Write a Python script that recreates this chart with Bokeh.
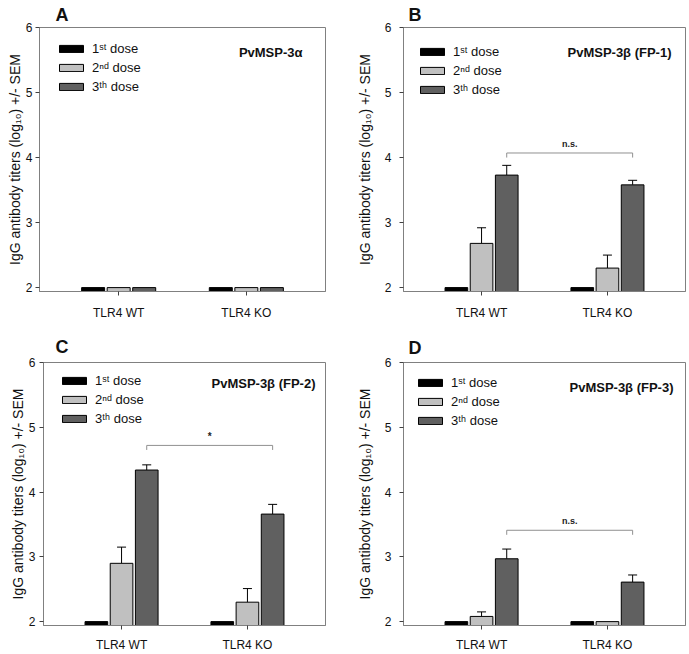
from bokeh.plotting import figure
from bokeh.models import (ColumnDataSource, FactorRange, Range1d, Whisker, TeeHead,
                          Legend, LegendItem, Label)
from bokeh.transform import dodge
from bokeh.layouts import column, row
from bokeh.embed import file_html
from bokeh.resources import INLINE
from bokeh.core.properties import value

# ---------------- data ----------------
groups = ["TLR4 WT", "TLR4 KO"]
dose_labels = ["1ˢᵗ dose", "2ⁿᵈ dose", "3ᵗʰ dose"]
panel_letters = ["A", "B", "C", "D"]
panel_titles = ["PvMSP-3α", "PvMSP-3β (FP-1)", "PvMSP-3β (FP-2)", "PvMSP-3β (FP-3)"]
y_ticks = [2, 3, 4, 5, 6]
y_min, y_max = 1.94, 6.0

# means (log10 titers) per dose, [TLR4 WT, TLR4 KO]
a_dose1 = [2.0, 2.0]
a_dose2 = [2.0, 2.0]
a_dose3 = [2.0, 2.0]
a_err1 = [0.0, 0.0]
a_err2 = [0.0, 0.0]
a_err3 = [0.0, 0.0]

b_dose1 = [2.0, 2.0]
b_dose2 = [2.68, 2.30]
b_dose3 = [3.73, 3.58]
b_err1 = [0.0, 0.0]
b_err2 = [0.24, 0.20]
b_err3 = [0.15, 0.07]

c_dose1 = [2.0, 2.0]
c_dose2 = [2.90, 2.30]
c_dose3 = [4.34, 3.66]
c_err1 = [0.0, 0.0]
c_err2 = [0.25, 0.21]
c_err3 = [0.08, 0.15]

d_dose1 = [2.0, 2.0]
d_dose2 = [2.08, 2.00]
d_dose3 = [2.97, 2.61]
d_err1 = [0.0, 0.0]
d_err2 = [0.07, 0.0]
d_err3 = [0.15, 0.11]

sig_labels = ["", "n.s.", "*", "n.s."]
sig_levels = [None, 4.07, 4.72, 3.41]

# ---------------- style ----------------
FONT = "Liberation Sans"
TXT = "#111111"
colors = ["#000000", "#c0c0c0", "#606060"]
offsets = [-0.2, 0.0, 0.2]
BAR_W = 0.18
GREY = "#808080"
ITEM_H = 14
SPACING = 4


def make_panel(idx, means, errs, w, h, bl, br, bt, bb, lab_std, ax_std, x_std,
               leg_x, leg_top, title_r, title_y, let_x, let_std):
    p = figure(width=w, height=h, output_backend="svg", toolbar_location=None,
               x_range=FactorRange(*groups, range_padding=0.12),
               y_range=Range1d(y_min, y_max),
               min_border_left=bl, min_border_right=br,
               min_border_top=bt, min_border_bottom=bb)
    p.xgrid.grid_line_color = None
    p.ygrid.grid_line_color = None
    p.outline_line_color = GREY
    p.outline_line_width = 1
    p.background_fill_color = "white"

    # panel letter as title
    p.title.text = panel_letters[idx]
    p.title.text_font = FONT
    p.title.text_font_size = "18px"
    p.title.text_font_style = "bold"
    p.title.text_color = TXT
    p.title.align = "left"
    p.title.offset = let_x
    p.title.standoff = let_std

    renderers = []
    for i in range(3):
        src = ColumnDataSource(dict(x=groups, top=means[i]))
        r = p.vbar(x=dodge("x", offsets[i], range=p.x_range), top="top", bottom=y_min,
                   width=BAR_W, source=src, fill_color=colors[i],
                   line_color="black", line_width=1)
        renderers.append(r)
        xs = [g for g, e in zip(groups, errs[i]) if e > 0]
        if xs:
            lo = [m for m, e in zip(means[i], errs[i]) if e > 0]
            up = [m + e for m, e in zip(means[i], errs[i]) if e > 0]
            wsrc = ColumnDataSource(dict(x=xs, lower=lo, upper=up))
            wh = Whisker(base=dodge("x", offsets[i], range=p.x_range), lower="lower",
                         upper="upper", source=wsrc, line_color="black", line_width=1,
                         upper_head=TeeHead(size=9, line_color="black", line_width=1),
                         lower_head=None)
            p.add_layout(wh)

    # significance bracket
    lvl = sig_levels[idx]
    if lvl is not None:
        bsrc = ColumnDataSource(dict(x=[groups[0], groups[0], groups[1], groups[1]],
                                     y=[lvl - 0.07, lvl, lvl, lvl - 0.07]))
        p.line(x=dodge("x", offsets[2], range=p.x_range), y="y", source=bsrc,
               line_color="#909090", line_width=1)
        tsrc = ColumnDataSource(dict(x=[groups[1]], y=[lvl + 0.06], t=[sig_labels[idx]]))
        p.text(x=dodge("x", offsets[2] - 0.5, range=p.x_range), y="y", text="t",
               source=tsrc, text_font=value(FONT),
               text_font_size="10px" if sig_labels[idx] == "*" else "9px",
               text_font_style="bold", text_align="center", text_baseline="bottom",
               text_color="#222222")

    # axes
    for ax in (p.xaxis[0], p.yaxis[0]):
        ax.axis_line_color = GREY
        ax.major_tick_line_color = "#404040"
        ax.minor_tick_line_color = None
        ax.major_tick_in = 0
        ax.major_tick_out = 4
        ax.major_label_text_font = FONT
        ax.major_label_text_font_size = "12px"
        ax.major_label_text_color = TXT
    p.xaxis.major_label_standoff = x_std
    p.yaxis.major_label_standoff = lab_std
    p.yaxis.ticker = y_ticks
    p.yaxis.axis_label = "IgG antibody titers (log₁₀) +/- SEM"
    p.yaxis.axis_label_text_font = FONT
    p.yaxis.axis_label_text_font_size = "14px"
    p.yaxis.axis_label_text_font_style = "normal"
    p.yaxis.axis_label_text_line_height = 1.0
    p.yaxis.axis_label_text_color = TXT
    p.yaxis.axis_label_standoff = ax_std

    fw = w - bl - br
    fh = h - bt - bb

    # legend (location tuple = bottom-left corner, screen px from frame bottom-left)
    leg_h = 3 * ITEM_H + 2 * SPACING
    items = [LegendItem(label=dose_labels[i], renderers=[renderers[i]]) for i in range(3)]
    leg = Legend(items=items, location=(leg_x, fh - leg_top - leg_h), margin=0, padding=0,
                 glyph_width=30, glyph_height=9, label_height=ITEM_H, spacing=SPACING,
                 label_standoff=6, label_text_font=FONT, label_text_font_size="13px",
                 label_text_color=TXT, border_line_color=None,
                 background_fill_alpha=0)
    p.add_layout(leg)

    p.add_layout(Label(x=fw - title_r, y=fh - title_y, x_units="screen", y_units="screen",
                       text=panel_titles[idx], text_font=FONT, text_font_size="13px",
                       text_font_style="bold", text_align="right",
                       text_baseline="middle", text_color=TXT))
    return p


pA = make_panel(0, [a_dose1, a_dose2, a_dose3], [a_err1, a_err2, a_err3],
                345, 327, 39, 20, 27, 36, 3, 0, 10,
                17, 17, 23, 25, 16, 5)
pB = make_panel(1, [b_dose1, b_dose2, b_dose3], [b_err1, b_err2, b_err3],
                344, 327, 58, 4, 27, 36, 8, 9, 10,
                14, 20, 14, 25, 5, 5)
pC = make_panel(2, [c_dose1, c_dose2, c_dose3], [c_err1, c_err2, c_err3],
                345, 327, 43, 20, 35, 28, 4, 0, 8,
                16, 15, 10, 22, 12, 11)
pD = make_panel(3, [d_dose1, d_dose2, d_dose3], [d_err1, d_err2, d_err3],
                344, 327, 58, 4, 35, 28, 8, 9, 8,
                12, 17, 12, 26, 5, 9)

layout = column(row(pA, pB), row(pC, pD))
open("out.html", "w").write(file_html(layout, INLINE))
